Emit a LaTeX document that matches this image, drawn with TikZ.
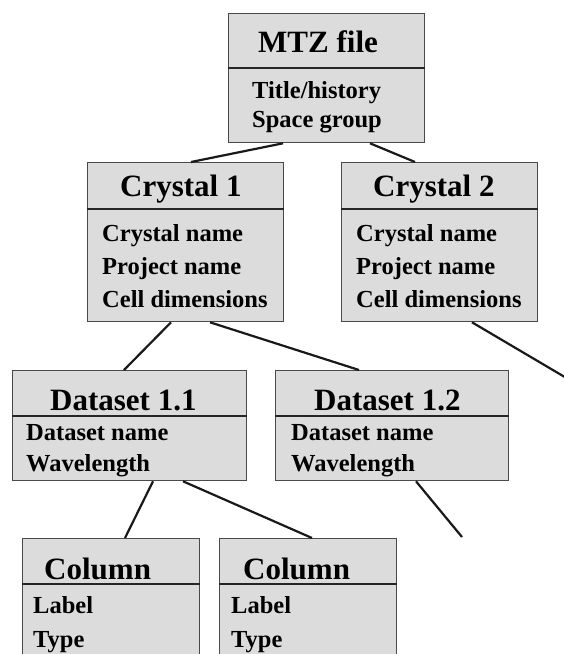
\documentclass[tikz,border=0pt]{standalone}
\usepackage{fontspec}
\setmainfont{Liberation Serif}
\usetikzlibrary{positioning}
\definecolor{boxfill}{HTML}{DCDCDC}
\definecolor{boxedge}{HTML}{4A4A4A}

\begin{document}
\begin{tikzpicture}[x=1pt, y=-1pt,
		box/.style={draw=boxedge, fill=boxfill, line width=1.3pt, rectangle, anchor=north west, inner sep=0pt},
		divider/.style={line width=2pt, black!85},
		title/.style={anchor=base west, inner sep=0pt, font=\fontsize{31}{31}\selectfont\bfseries},
		items/.style={anchor=base west, inner sep=0pt, align=left, font=\fontsize{24.5}{#1}\selectfont\bfseries},
		link/.style={line width=2.2pt, black!90}
		]
		\useasboundingbox (0,0) rectangle (564,654);
		\clip (0,0) rectangle (564,654);

		% Boxes
		\node[box, minimum width=196pt, minimum height=129pt] (mtz) at (228,13) {};
		\node[box, minimum width=196pt, minimum height=159pt] (crystal1) at (87,162) {};
		\node[box, minimum width=196pt, minimum height=159pt] (crystal2) at (341,162) {};
		\node[box, minimum width=234pt, minimum height=110pt] (dataset11) at (12,370) {};
		\node[box, minimum width=233pt, minimum height=110pt] (dataset12) at (275,370) {};
		\node[box, minimum width=177pt, minimum height=150pt] (column1) at (22,538) {};
		\node[box, minimum width=177pt, minimum height=150pt] (column2) at (219,538) {};

		% Dividers
		\draw[divider] ([yshift=-55pt]mtz.north west) -- ([yshift=-55pt]mtz.north east);
		\draw[divider] ([yshift=-47pt]crystal1.north west) -- ([yshift=-47pt]crystal1.north east);
		\draw[divider] ([yshift=-47pt]crystal2.north west) -- ([yshift=-47pt]crystal2.north east);
		\draw[divider] ([yshift=-46pt]dataset11.north west) -- ([yshift=-46pt]dataset11.north east);
		\draw[divider] ([yshift=-46pt]dataset12.north west) -- ([yshift=-46pt]dataset12.north east);
		\draw[divider] ([yshift=-46pt]column1.north west) -- ([yshift=-46pt]column1.north east);
		\draw[divider] ([yshift=-46pt]column2.north west) -- ([yshift=-46pt]column2.north east);

		% Texts (items: base is the last line)
		\node[title] (mtz_title) at ([xshift=30pt, yshift=-39pt]mtz.north west) {MTZ file};
		\node[items=29pt] (mtz_items) at ([xshift=24pt, yshift=-114pt]mtz.north west) {Title/history\\Space group};
		\node[title] (crystal1_title) at ([xshift=33pt, yshift=-34pt]crystal1.north west) {Crystal 1};
		\node[items=33pt] (crystal1_items) at ([xshift=15pt, yshift=-145pt]crystal1.north west) {Crystal name\\Project name\\Cell dimensions};
		\node[title] (crystal2_title) at ([xshift=32pt, yshift=-34pt]crystal2.north west) {Crystal 2};
		\node[items=33pt] (crystal2_items) at ([xshift=15pt, yshift=-145pt]crystal2.north west) {Crystal name\\Project name\\Cell dimensions};
		\node[title] (dataset11_title) at ([xshift=38pt, yshift=-40pt]dataset11.north west) {Dataset 1.1};
		\node[items=31pt] (dataset11_items) at ([xshift=14pt, yshift=-101pt]dataset11.north west) {Dataset name\\Wavelength};
		\node[title] (dataset12_title) at ([xshift=39pt, yshift=-40pt]dataset12.north west) {Dataset 1.2};
		\node[items=31pt] (dataset12_items) at ([xshift=16pt, yshift=-101pt]dataset12.north west) {Dataset name\\Wavelength};
		\node[title] (column1_title) at ([xshift=22pt, yshift=-41pt]column1.north west) {Column};
		\node[items=34pt] (column1_items) at ([xshift=11pt, yshift=-109pt]column1.north west) {Label\\Type};
		\node[title] (column2_title) at ([xshift=24pt, yshift=-41pt]column2.north west) {Column};
		\node[items=34pt] (column2_items) at ([xshift=12pt, yshift=-109pt]column2.north west) {Label\\Type};

		% Free ends
		\coordinate (crystal2_more) at (580,386);
		\coordinate (dataset12_more) at (462,537);

		% Connectors
		\draw[link] ([xshift=55pt]mtz.south west) -- ([xshift=104pt]crystal1.north west);
		\draw[link] ([xshift=142pt]mtz.south west) -- ([xshift=74pt]crystal2.north west);
		\draw[link] ([xshift=84pt]crystal1.south west) -- ([xshift=112pt]dataset11.north west);
		\draw[link] ([xshift=123pt]crystal1.south west) -- ([xshift=84pt]dataset12.north west);
		\draw[link] ([xshift=131pt]crystal2.south west) -- (crystal2_more);
		\draw[link] ([xshift=141pt]dataset11.south west) -- ([xshift=103pt]column1.north west);
		\draw[link] ([xshift=171pt]dataset11.south west) -- ([xshift=93pt]column2.north west);
		\draw[link] ([xshift=141pt]dataset12.south west) -- (dataset12_more);
	\end{tikzpicture}
\end{document}
